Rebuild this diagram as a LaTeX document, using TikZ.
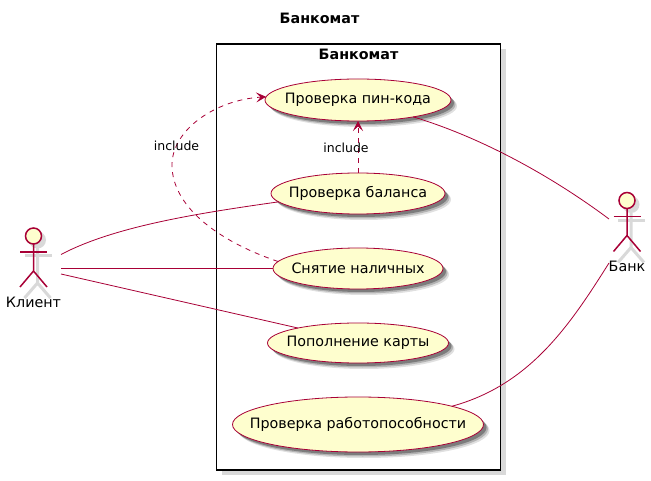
\documentclass[tikz,border=0pt]{standalone}
\usepackage{fontspec}
\setmainfont{DejaVu Sans}
\usepackage{tikz}
\usetikzlibrary{arrows.meta,positioning,shadows}
\usetikzlibrary{shapes.geometric}
\definecolor{umlline}{HTML}{A80036}
\definecolor{umlfill}{HTML}{FEFECE}
\definecolor{umlshade}{HTML}{D9D9D9}
\newcommand{\fs}[1]{\fontsize{#1}{#1}\selectfont}
\tikzset{
  usecase/.style={draw=umlline,fill=umlfill,ellipse,line width=0.8pt,inner xsep=-30pt,inner ysep=0pt,outer sep=0pt,font=\fs{14.3},
    general shadow={shadow xshift=6pt,shadow yshift=-6pt,fill=black,opacity=0.12},
    general shadow={shadow xshift=4.5pt,shadow yshift=-4.5pt,fill=black,opacity=0.2},
    general shadow={shadow xshift=3pt,shadow yshift=-3pt,fill=black,opacity=0.3}},
  link/.style={draw=umlline,line width=0.8pt},
  incl/.style={link,dash pattern=on 5pt off 5pt,-{Stealth[length=10pt,width=10pt,inset=4.5pt]}},
  lbl/.style={inner sep=0pt,font=\fs{12.5}},
  heading/.style={inner sep=0pt,font=\fs{14.3}\bfseries},
  actorhead/.style={circle,draw=umlline,fill=umlfill,line width=1.5pt,minimum size=16pt,inner sep=0pt,outer sep=0pt},
  stick/.style={draw=umlline,line width=1.5pt},
  stickshade/.style={draw=umlshade,line width=3pt}
}
\newcommand{\actor}[4]{
  \fill[umlshade] (#3+4,#4-4) circle (8.5);
  \draw[stickshade] (#3+4,#4-12) -- ++(0,-35) -- ++(-13,-15) ++(13,15) -- ++(13,-15);
  \draw[stickshade] (#3-9,#4-20) -- (#3+18,#4-20);
  \node[actorhead] (#1) at (#3,#4) {};
  \draw[stick] (#1.south) -- ++(0,-27) -- ++(-13.5,-16) ++(13.5,16) -- ++(13.5,-16);
  \draw[stick] (#3-13.5,#4-16) -- (#3+13.5,#4-16);
  \node[lbl,font=\fs{14.3}] (#1label) at (#3,#4-66) {#2};
}
\begin{document}
\begin{tikzpicture}[x=1pt,y=1pt,node distance=34pt]
  \useasboundingbox (0,0) rectangle (651,-481);
  \node[heading] (title) at (319.5,-18) {Банкомат};
  \node[draw=black,fill=white,line width=1.4pt,minimum width=284pt,minimum height=426pt,outer sep=0pt,
    drop shadow={shadow xshift=5pt,shadow yshift=-5pt,fill=umlshade,opacity=1}] (system) at (358.5,-257) {};
  \node[heading,below=5pt of system.north] (systemtitle) {Банкомат};
  \node[usecase,minimum width=186pt,minimum height=42pt] (pin) at (358,-100) {Проверка пин-кода};
  \node[usecase,minimum width=174pt,minimum height=41pt,below=52pt of pin] (balance) {Проверка баланса};
  \node[usecase,minimum width=170pt,minimum height=41pt,below=of balance] (cash) {Снятие наличных};
  \node[usecase,minimum width=181pt,minimum height=40pt,below=of cash] (refill) {Пополнение карты};
  \node[usecase,minimum width=251pt,minimum height=55pt,below=of refill] (health) {Проверка работопособности};
  \actor{client}{Клиент}{33.5}{-236}
  \actor{bank}{Банк}{627}{-200.5}
  \coordinate (clientA) at (61,-254.5);
  \coordinate (clientB) at (61,-268.5);
  \coordinate (clientC) at (61,-274);
  \coordinate (bankA) at (609,-219);
  \coordinate (bankB) at (609,-263);
  \draw[link] (clientA) .. controls (115,-226) and (200,-213) .. (balance.186.7);
  \draw[link] (clientB) -- (cash.west);
  \draw[link] (clientC) -- (refill.166.4);
  \draw[link] (pin.-17) .. controls (480,-137) and (550,-175) .. (bankA);
  \draw[link] (health.11.2) .. controls (530,-385) and (570,-325) .. (bankB);
  \draw[incl] (balance.north) -- node[lbl,pos=0.5,xshift=-12pt,yshift=-1pt] (inclB) {include} (pin.south);
  \draw[incl] (cash.175) .. controls (215,-240) and (172,-205) .. (172,-165)
    .. controls (172,-130) and (215,-100) .. (pin.178);
  \node[lbl] (inclA) at (176.5,-146) {include};
\end{tikzpicture}
\end{document}
